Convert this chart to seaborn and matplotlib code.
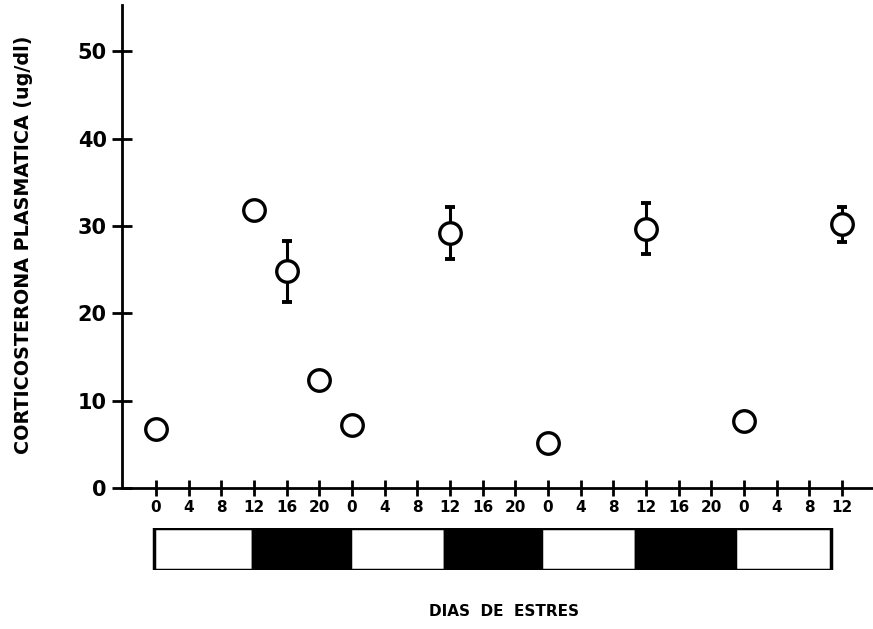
import matplotlib
matplotlib.use("Agg")
import matplotlib.pyplot as plt
import seaborn as sns
import numpy as np
import pandas as pd

# ---- data ----
hours = [0, 12, 16, 20, 24, 36, 48, 60, 72, 84]
cort = [6.8, 31.8, 24.8, 12.4, 7.2, 29.2, 5.2, 29.7, 7.7, 30.2]
sem = [0, 0, 3.5, 0, 0, 3.0, 0, 2.9, 0, 2.0]
tick_hours = list(range(0, 85, 4))
tick_labels = ["0", "4", "8", "12", "16", "20"] * 3 + ["0", "4", "8", "12"]
# light/dark periods (hours): boundaries and phase
period_edges = [-0.2, 11.9, 23.7, 35.4, 47.2, 58.8, 70.9, 82.7]
period_dark = [False, True, False, True, False, True, False]

df = pd.DataFrame({"hour": hours, "cort": cort, "sem": sem})

sns.set_style("white")
plt.rcParams["font.family"] = ["DejaVu Sans"]
plt.rcParams["text.color"] = "black"
plt.rcParams["axes.labelcolor"] = "black"
plt.rcParams["xtick.color"] = "black"
plt.rcParams["ytick.color"] = "black"

W, H = 873, 629
fig = plt.figure(figsize=(W / 100, H / 100), dpi=100)

# main axes in pixel geometry
x0, x1 = 122, 873
y_top, y_bot = 5, 488
ax = fig.add_axes([x0 / W, 1 - y_bot / H, (x1 - x0) / W, (y_bot - y_top) / H])

err = df[df["sem"] > 0]
ax.errorbar(err["hour"], err["cort"], yerr=err["sem"], fmt="none", ecolor="black",
            elinewidth=2.2, capsize=3.5, capthick=2.8, zorder=2)
sns.scatterplot(data=df, x="hour", y="cort", ax=ax, marker="o", s=240,
                facecolor="white", edgecolor="black", linewidth=2.4, zorder=3,
                legend=False)

ax.set_xlim(-4.16, 87.8)
ax.set_ylim(0, 55.3)
ax.set_yticks([0, 10, 20, 30, 40, 50])
ax.set_xticks(tick_hours)
ax.set_xticklabels(tick_labels)
ax.tick_params(axis="y", left=True, direction="inout", length=14, width=2,
               labelsize=15, pad=4, colors="black")
ax.tick_params(axis="x", bottom=True, direction="inout", length=11.5, width=2,
               labelsize=11, pad=3, colors="black")
for lab in ax.get_xticklabels() + ax.get_yticklabels():
    lab.set_fontweight("bold")
for side in ["top", "right"]:
    ax.spines[side].set_visible(False)
for side in ["left", "bottom"]:
    ax.spines[side].set_linewidth(2)
    ax.spines[side].set_color("black")
ax.set_xlabel("")
ax.set_ylabel("CORTICOSTERONA PLASMATICA (ug/dl)", fontsize=13.8, fontweight="bold",
              color="black")
ax.yaxis.set_label_coords(-(x0 - 33) / (x1 - x0), (y_bot - 245) / (y_bot - y_top))

# light/dark bar
by0, by1 = 528, 570
ax2 = fig.add_axes([x0 / W, 1 - by1 / H, (x1 - x0) / W, (by1 - by0) / H])
starts = period_edges[:-1]
widths = np.diff(period_edges)
ax2.bar(starts, [1] * len(starts), width=widths, align="edge",
        color=["black" if d else "white" for d in period_dark],
        edgecolor="black", linewidth=2.5)
ax2.set_xlim(ax.get_xlim())
ax2.set_ylim(0, 1)
ax2.axis("off")

fig.text(504 / W, 1 - 612 / H, "DIAS  DE  ESTRES", ha="center", va="center",
         fontsize=11, fontweight="bold", color="black")

fig.savefig("out.png", dpi=100)
